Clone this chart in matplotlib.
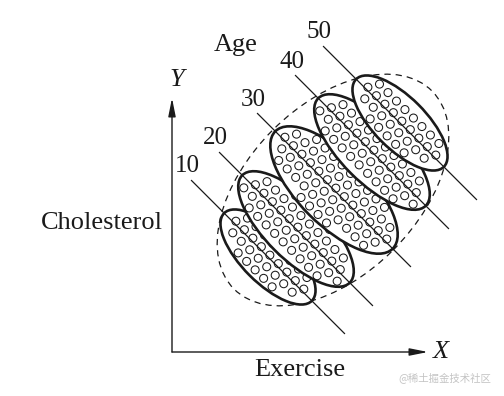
import numpy as np
import matplotlib
matplotlib.use("Agg")
import matplotlib.pyplot as plt
from matplotlib.patches import Ellipse, Circle
from matplotlib.collections import PatchCollection

# -----------------------------
# Data (canvas units, y up)
# -----------------------------
ages = ["10", "20", "30", "40", "50"]
center_x = [268, 296, 334, 372, 400]
center_y = [139, 167, 206, 244, 273]
semi_major = [62, 76, 83, 76, 62]
semi_minor = [26, 30, 35, 30, 26]
line_half = 76.5          # half length of each age line (along x)

cloud_center = (333, 206)   # dashed outline around all groups
cloud_width = 280
cloud_height = 170

origin = (172, 44)
x_tip = (428, 44)
y_tip = (172, 298)

# -----------------------------
# Style
# -----------------------------
SERIF = ["Liberation Serif", "DejaVu Serif"]
INK = "#1a1a1a"
DOT_R = 4.0
DOT_GAP = 12.0
ROW_GAP = 10.4
ANGLE = -45   # groups run down to the right


def dot_texture(cx, cy, a, b):
    """small open circles packed inside one group ellipse"""
    t = np.deg2rad(ANGLE)
    dots = []
    n_rows = int(b // ROW_GAP) + 1
    for i in range(-n_rows, n_rows + 1):
        v = i * ROW_GAP + ROW_GAP / 4
        shift = (i % 2) * DOT_GAP / 2
        n_cols = int(a // DOT_GAP) + 2
        for j in range(-n_cols, n_cols + 1):
            u = j * DOT_GAP + shift
            if (u / (a - DOT_R - 1.0)) ** 2 + (v / (b - DOT_R - 1.0)) ** 2 <= 1:
                px = cx + u * np.cos(t) - v * np.sin(t)
                py = cy + u * np.sin(t) + v * np.cos(t)
                dots.append(Circle((px, py), DOT_R))
    return dots


fig = plt.figure(figsize=(5.04, 3.96), dpi=100)
ax = fig.add_axes([0, 0, 1, 1])
ax.set_xlim(0, 504)
ax.set_ylim(0, 396)
ax.axis("off")

# dashed outline
ax.add_patch(Ellipse(cloud_center, cloud_width, cloud_height, angle=45,
                     fill=False, ec=INK, lw=0.9, ls=(0, (5, 4)), zorder=1))

# groups
for k in range(len(ages)):
    cx, cy = center_x[k], center_y[k]
    a, b = semi_major[k], semi_minor[k]
    z = 2 + k * 2
    ax.add_patch(Ellipse((cx, cy), 2 * a, 2 * b, angle=ANGLE,
                         fc="white", ec=INK, lw=1.9, zorder=z + 1))
    dots = PatchCollection(dot_texture(cx, cy, a, b), facecolor="none",
                           edgecolor=INK, linewidth=0.75, zorder=z + 1.5)
    ax.add_collection(dots)

# age lines and labels
for k in range(len(ages)):
    cx, cy = center_x[k], center_y[k]
    xs = [cx - line_half, cx + line_half]
    ys = [cy + line_half, cy - line_half]
    ax.plot(xs, ys, color=INK, lw=0.9, zorder=20)
    ax.text(xs[0] - 4, ys[0] + 14, ages[k], fontsize=18, family=SERIF,
            color=INK, ha="center", va="center")

# axes arrows
arrow = dict(arrowstyle="-|>,head_length=1.1,head_width=0.22",
             color=INK, lw=1.0, shrinkA=0, shrinkB=0)
ax.annotate("", xy=x_tip, xytext=origin, arrowprops=arrow)
ax.annotate("", xy=y_tip, xytext=origin, arrowprops=arrow)

ax.text(441, 44, "X", fontsize=19, family=SERIF, style="italic",
        color=INK, ha="center", va="center")
ax.text(177, 316, "Y", fontsize=19, family=SERIF, style="italic",
        color=INK, ha="center", va="center")
ax.text(300, 26, "Exercise", fontsize=19, family=SERIF, color=INK,
        ha="center", va="center")
ax.text(102, 173, "Cholesterol", fontsize=19, family=SERIF, color=INK,
        ha="center", va="center")
ax.text(236, 351, "Age", fontsize=19, family=SERIF, color=INK,
        ha="center", va="center")

ax.text(445, 18, "@稀土掘金技术社区", fontsize=7.5,
        family=["Noto Sans CJK SC", "DejaVu Sans"], color="#c4c4c4",
        ha="center", va="center")

fig.savefig("out.png", dpi=100)
